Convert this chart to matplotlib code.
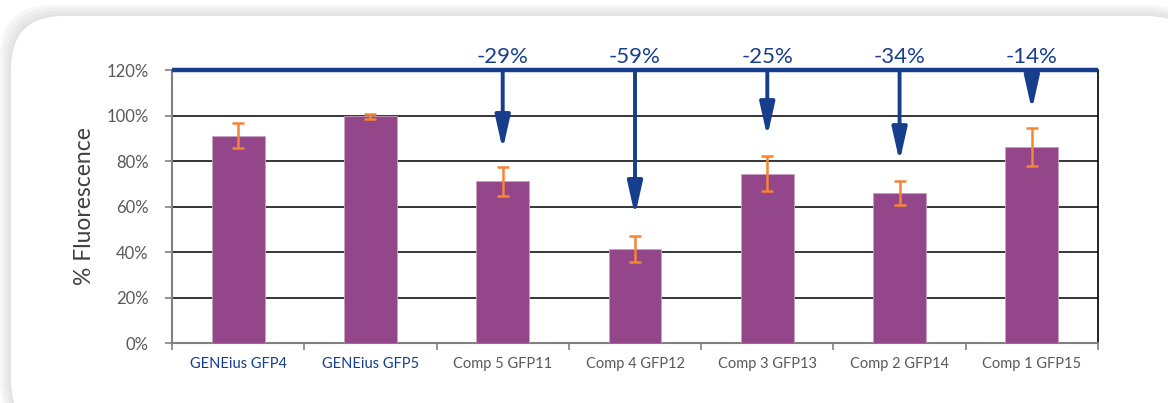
import numpy as np
import matplotlib.pyplot as plt
from matplotlib.patches import FancyBboxPatch

# data
labels = ['GENEius GFP4', 'GENEius GFP5', 'Comp 5 GFP11', 'Comp 4 GFP12',
          'Comp 3 GFP13', 'Comp 2 GFP14', 'Comp 1 GFP15']
fluor = [91.0, 99.6, 71.0, 41.3, 74.4, 65.8, 86.2]
err = [5.5, 1.0, 6.5, 5.7, 7.6, 5.2, 8.3]
change_labels = ['', '', '-29%', '-59%', '-25%', '-34%', '-14%']
arrow_tips = [None, None, 85.0, 56.0, 90.7, 79.7, 102.4]

bar_col = '#93478A'
err_col = '#F58532'
blue = '#163E8C'
grey = '#595959'

plt.rcParams['font.family'] = ['Lato', 'DejaVu Sans']

fig = plt.figure(figsize=(11.68, 4.03), dpi=100)
fig.patch.set_facecolor('white')

# card with soft shadow
W, H = 1168, 403
for off, c in [(11, '#f6f6f6'), (8, '#efefef'), (5, '#e8e8e8'), (2, '#e2e2e2')]:
    sh = FancyBboxPatch(((11 - off) / W, (0 - 30) / H), (1200 - 11 + off) / W, (H - 16 + off + 30) / H,
                        boxstyle='round,pad=0,rounding_size=0.045', transform=fig.transFigure,
                        facecolor=c, edgecolor='none', zorder=0, mutation_aspect=W / H)
    fig.patches.append(sh)
card = FancyBboxPatch((11 / W, -30 / H), (1200 - 11) / W, (H - 16 + 30) / H,
                      boxstyle='round,pad=0,rounding_size=0.045', transform=fig.transFigure,
                      facecolor='white', edgecolor='none', zorder=1, mutation_aspect=W / H)
fig.patches.append(card)

ax = fig.add_axes([172 / W, 1 - 343 / H, (1098 - 172) / W, (343 - 70) / H])
ax.set_facecolor('none')
ax.set_zorder(2)

x = np.arange(len(labels))
ax.bar(x, fluor, width=0.4, color=bar_col, edgecolor='#c8a0c2', linewidth=0.6, zorder=3)
ax.errorbar(x, fluor, yerr=err, fmt='none', ecolor=err_col, elinewidth=1.8,
            capsize=4, capthick=1.8, zorder=4)

ax.set_xlim(-0.5, len(labels) - 0.5)
ax.set_ylim(0, 120)
ax.set_yticks(range(0, 121, 20))
ax.set_yticklabels(['%d%%' % v for v in range(0, 121, 20)], fontsize=12, color=grey)
for v in range(20, 101, 20):
    ax.axhline(v, color='black', lw=1.1, zorder=1)

ax.set_xticks(x)
ax.set_xticklabels(labels, fontsize=10.5)
for i, t in enumerate(ax.get_xticklabels()):
    t.set_color(blue if i < 2 else grey)
ax.set_xticks(np.arange(-0.5, len(labels)), minor=True)
ax.tick_params(axis='x', which='major', length=0, pad=10)
ax.tick_params(axis='x', which='minor', length=5, color='#808080', width=1.2)
ax.tick_params(axis='y', length=5, color='#808080', width=1.2, pad=12)

ax.spines['left'].set_color('#808080')
ax.spines['left'].set_linewidth(1.5)
ax.spines['bottom'].set_color('#808080')
ax.spines['bottom'].set_linewidth(1.5)
ax.spines['right'].set_color('black')
ax.spines['right'].set_linewidth(1.2)
ax.spines['top'].set_visible(False)

ax.set_ylabel('% Fluorescence', fontsize=16.5, color='#404040', labelpad=8)

# reference line at 120% and the arrows
ax.plot([-0.5, len(labels) - 0.5], [120, 120], color=blue, lw=3.2, clip_on=False, zorder=5,
        solid_capstyle='butt')
for i, (lab, tip) in enumerate(zip(change_labels, arrow_tips)):
    if tip is None:
        continue
    ax.annotate('', xy=(i, tip), xytext=(i, 120),
                arrowprops=dict(arrowstyle='-|>,head_width=0.45,head_length=2.0',
                                color=blue, lw=2.8, shrinkA=0, shrinkB=0),
                zorder=6, annotation_clip=False)
    ax.text(i, 121.5, lab, ha='center', va='bottom', fontsize=16,
            color=blue, clip_on=False)

fig.savefig('out.png', dpi=100)
